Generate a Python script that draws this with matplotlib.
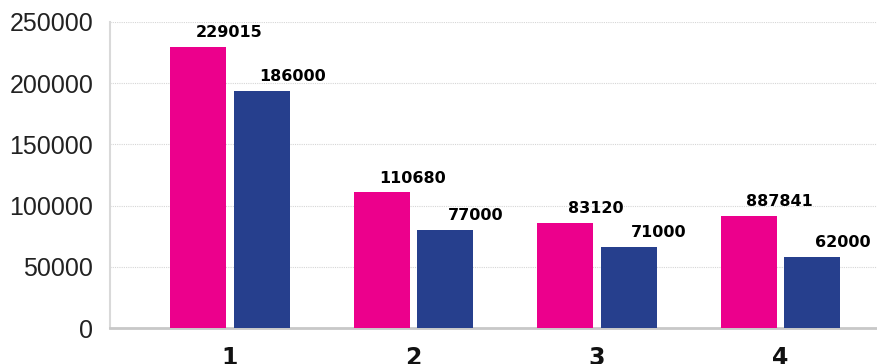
import numpy as np
import matplotlib
matplotlib.use('Agg')
from matplotlib import pyplot as plt

plt.rcParams['font.family'] = ['Liberation Sans', 'DejaVu Sans']

# data
groups = ['1', '2', '3', '4']
pink_vals = [229400, 110700, 85900, 91900]
blue_vals = [194000, 80000, 66300, 58300]
pink_labels = ['229015', '110680', '83120', '887841']
blue_labels = ['186000', '77000', '71000', '62000']

pink = '#EC008C'
blue = '#263F8D'

fig = plt.figure(figsize=(8.77, 3.64), dpi=100)
ax = fig.add_axes([0.1254, 0.0989, 0.8746, 0.8407])

x = np.arange(1, len(groups) + 1)
w = 0.305
off = 0.172
ax.bar(x - off, pink_vals, w, color=pink, zorder=3)
ax.bar(x + off, blue_vals, w, color=blue, zorder=3)

for xi, v, lab in zip(x - off, pink_vals, pink_labels):
    ax.annotate(lab, (xi, v), xytext=(22, 7), textcoords='offset points',
                ha='center', va='baseline', fontsize=11.5, fontweight='bold',
                family='DejaVu Sans')
for xi, v, lab in zip(x + off, blue_vals, blue_labels):
    ax.annotate(lab, (xi, v), xytext=(22, 7), textcoords='offset points',
                ha='center', va='baseline', fontsize=11.5, fontweight='bold',
                family='DejaVu Sans')

ax.set_xlim(1 - 0.654, 4.526)
ax.set_ylim(0, 250000)
ax.set_yticks(np.arange(0, 250001, 50000))
ax.set_xticks(x)
ax.set_xticklabels(groups, fontweight='bold', fontsize=17, family='DejaVu Sans')
ax.tick_params(axis='y', length=0, pad=12, labelsize=18, colors='#222222')
ax.tick_params(axis='x', length=0, pad=13, colors='#111111')

ax.grid(axis='y', linestyle=(0, (1, 1)), color='#d6d6d6', linewidth=0.8, zorder=0)
for s in ['top', 'right']:
    ax.spines[s].set_visible(False)
ax.spines['left'].set_color('#d9d9d9')
ax.spines['left'].set_linewidth(1.5)
ax.spines['bottom'].set_color('#c8c8c8')
ax.spines['bottom'].set_linewidth(2)

plt.savefig('out.png', dpi=100)
